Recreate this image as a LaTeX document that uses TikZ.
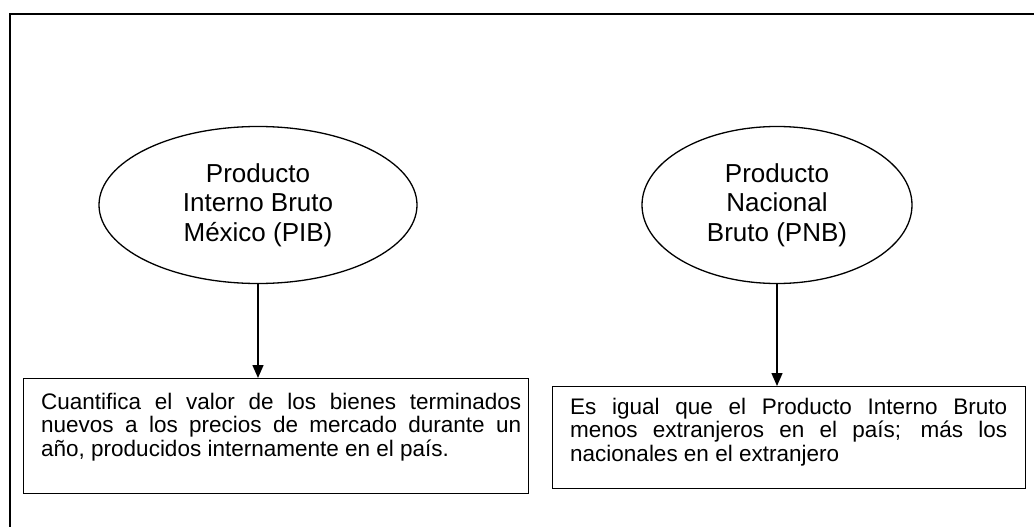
\documentclass[tikz,border=0pt]{standalone}
\usepackage{fontspec}
\setmainfont{Liberation Sans}
\usetikzlibrary{shapes.geometric,arrows.meta}
\begin{document}
\begin{tikzpicture}[x=1pt,y=-1pt,
  ell/.style={draw, ellipse, line width=1.3pt, inner sep=0pt, align=center,
    font=\fontsize{26}{29.5}\selectfont},
  boxshape/.style={draw, rectangle, line width=1.4pt, inner sep=0pt, anchor=north west},
  boxtext/.style={inner sep=0pt, anchor=north west, align=left,
    font=\fontsize{22.5}{23.3}\selectfont},
  arr/.style={line width=1.4pt, -{Triangle[width=11pt,length=13pt]}},
  frame/.style={line width=2pt}]
\useasboundingbox (0,0) rectangle (1034,527);
% outer frame (runs past the right and bottom edges)
\coordinate (fa) at (10,540);
\coordinate (fb) at (10,14);
\coordinate (fc) at (1045,14);
\draw[frame] (fa) -- (fb) -- (fc);
% ellipses
\node[ell, minimum width=318pt, minimum height=157pt] (e1) at (258,205)
  {Producto\\Interno Bruto\\México (PIB)};
\node[ell, minimum width=270pt, minimum height=157pt] (e2) at (777,205)
  {Producto\\Nacional\\Bruto (PNB)};
% boxes
\node[boxshape, minimum width=505pt, minimum height=115pt] (b1) at (23,378) {};
\node[boxshape, minimum width=473pt, minimum height=102pt] (b2) at (552,386) {};
\node[boxtext] (t1) at (41,393)
  {\makebox[480pt][s]{Cuantifica el valor de los bienes terminados}\\
   \makebox[480pt][s]{nuevos a los precios de mercado durante un}\\
   año, producidos internamente en el país.};
\node[boxtext] (t2) at (570,398)
  {\makebox[437pt][s]{Es igual que el Producto Interno Bruto}\\
   \makebox[437pt][s]{menos extranjeros en el país; más los}\\
   nacionales en el extranjero};
% connectors
\draw[arr] (e1.south) -- (e1.south |- b1.north);
\draw[arr] (e2.south) -- (e2.south |- b2.north);
\end{tikzpicture}
\end{document}
